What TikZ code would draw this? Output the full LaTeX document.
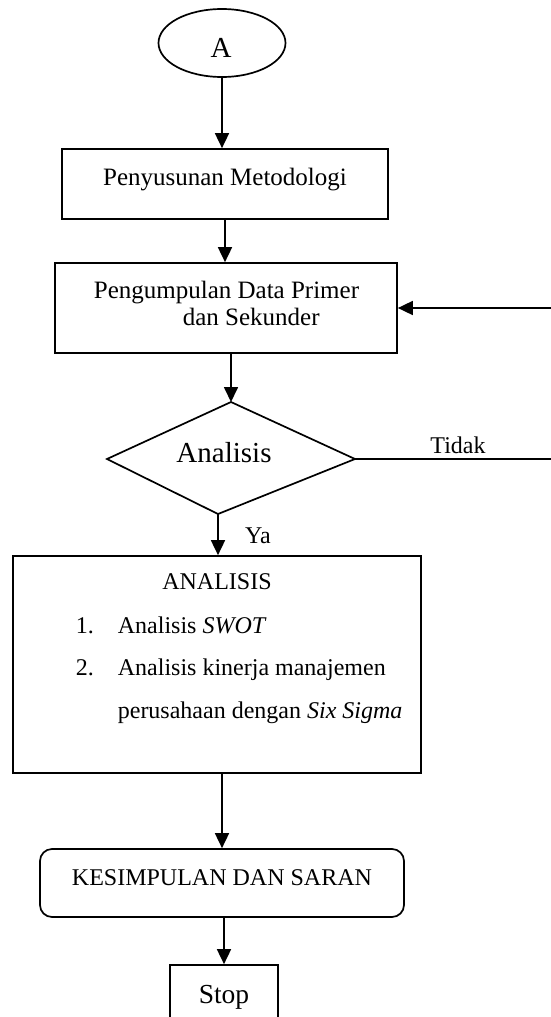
\documentclass[tikz,border=0pt]{standalone}
\usepackage{fontspec}
\setmainfont{Liberation Serif}
\usetikzlibrary{arrows.meta,shapes.geometric}
\begin{document}
\begin{tikzpicture}[x=1pt,y=-1pt,line width=1.7pt,
  arr/.style={-{Triangle[length=15pt,width=14pt]}},
  box/.style={draw,rectangle,inner sep=0pt},
  txt/.style={inner sep=0pt,font=\fontsize{24}{28}\selectfont},
  txtb/.style={inner sep=0pt,font=\fontsize{25}{28}\selectfont},
  big/.style={inner sep=0pt,font=\fontsize{29}{32}\selectfont}]
\useasboundingbox (0,0) rectangle (551,1017);
\clip (0,0) rectangle (551,1017);
% start
\node[draw,ellipse,minimum width=127pt,minimum height=68pt,inner sep=0pt] (A) at (222,43) {};
\node[big,anchor=base] (tA) at (221,57) {A};
% box 1
\node[box,minimum width=326pt,minimum height=70pt] (b1) at (225,184) {};
\node[txtb,anchor=base] (t1) at (225,185) {Penyusunan Metodologi};
% box 2
\node[box,minimum width=342pt,minimum height=90pt] (b2) at (226,308) {};
\node[txtb,anchor=base west] (t2a) at (93,298) {Pengumpulan Data Primer};
\node[txtb,anchor=base west] (t2b) at (182,325) {dan Sekunder};
% decision
\coordinate (dT) at (231,402);
\coordinate (dR) at (355,459);
\coordinate (dB) at (218,514);
\coordinate (dL) at (107,459);
\draw[line join=miter] (dT) -- (dR) -- (dB) -- (dL) -- cycle;
\node[big,anchor=base] (t3) at (224,462) {Analisis};
\node[txt,anchor=base] (tTidak) at (458,453) {Tidak};
\node[txt,anchor=base] (tYa) at (258,543) {Ya};
\coordinate (rc) at (565,0);
% analysis box
\node[box,minimum width=408pt,minimum height=217pt] (b4) at (217,664.5) {};
\node[txt,anchor=base] (t4) at (217,589) {ANALISIS};
\node[txt,anchor=base west] (n1) at (75,633) {1.};
\node[txt,anchor=base west] (i1) at (117,633) {Analisis \textit{SWOT}};
\node[txt,anchor=base west] (n2) at (75,675) {2.};
\node[txt,anchor=base west] (i2) at (117,675) {Analisis kinerja manajemen};
\node[txt,anchor=base west] (i3) at (117,718) {perusahaan dengan \textit{Six Sigma}};
% conclusion
\node[box,rounded corners=12pt,minimum width=364pt,minimum height=68pt] (b5) at (222,883) {};
\node[txt,anchor=base] (t5) at (222,885) {KESIMPULAN DAN SARAN};
% stop
\node[box,minimum width=108pt,minimum height=80pt] (b6) at (224,1005) {};
\node[inner sep=0pt,font=\fontsize{27.5}{30}\selectfont,anchor=base] (t6) at (224,1003) {Stop};
% connectors
\draw[arr] (A.south) -- (A.south |- b1.north);
\draw[arr] (b1.south) -- (b1.south |- b2.north);
\draw[arr] (dT |- b2.south) -- (dT);
\draw[arr] (dB) -- (dB |- b4.north);
\draw[arr] (b5.north |- b4.south) -- (b5.north);
\draw[arr] (b6.north |- b5.south) -- (b6.north);
\draw[arr] (dR) -- (dR -| rc) |- (b2.east);
\end{tikzpicture}
\end{document}
